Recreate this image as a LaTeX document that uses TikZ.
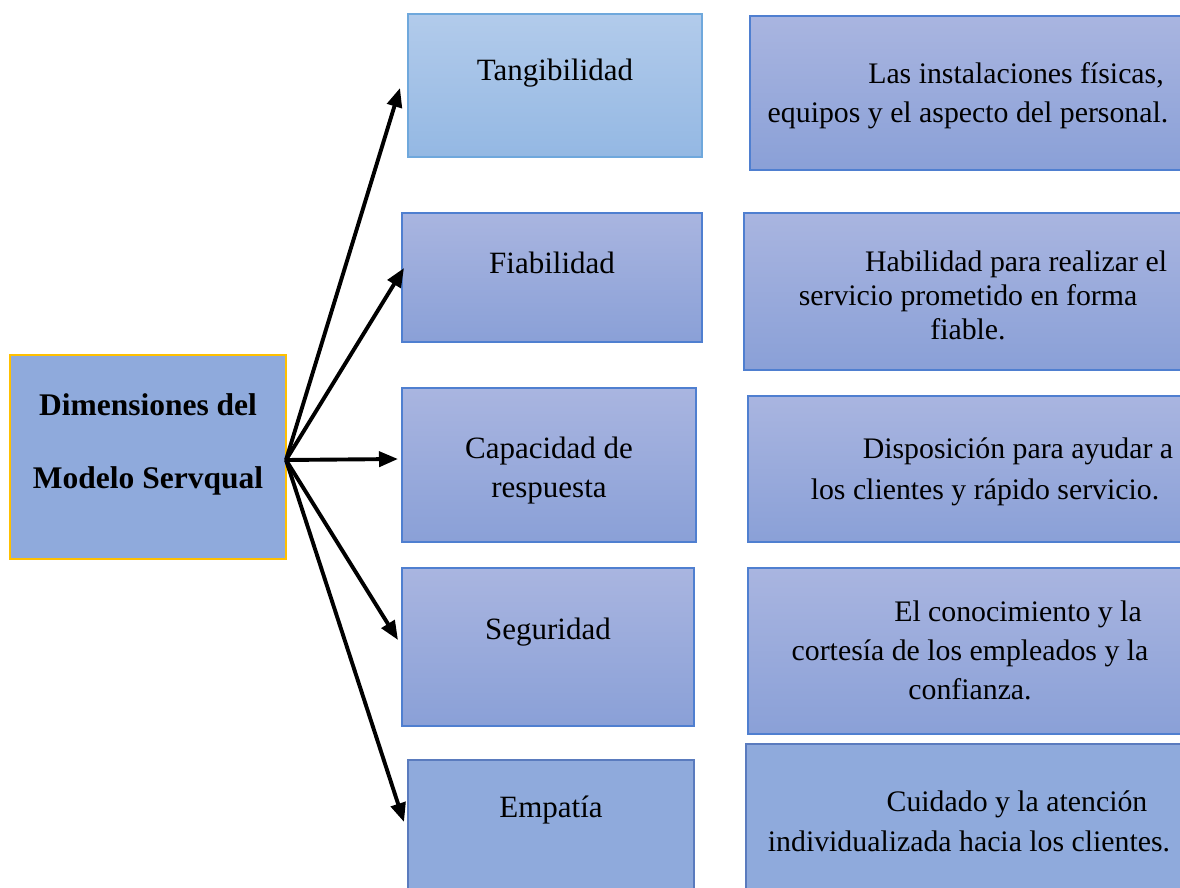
\documentclass[tikz,border=0pt]{standalone}
\usepackage{fontspec}
\setmainfont{Liberation Serif}
\usetikzlibrary{arrows.meta}
\definecolor{flatblue}{HTML}{8FAADC}
\definecolor{gold}{HTML}{FFC000}
\definecolor{tanTop}{HTML}{B2CBEB}
\definecolor{tanBot}{HTML}{94B8E3}
\definecolor{tanEdge}{HTML}{6FA8DC}
\definecolor{gTop}{HTML}{A9B5E0}
\definecolor{gBot}{HTML}{8AA0D7}
\definecolor{gEdge}{HTML}{4F7FD0}
\definecolor{fEdge}{HTML}{5A7BBE}
\tikzset{
  box/.style={rectangle, inner sep=0pt, outer sep=0pt, line width=1.2pt},
  gradbox/.style={box, draw=gEdge, top color=gTop, bottom color=gBot},
  tanbox/.style={box, draw=tanEdge, top color=tanTop, bottom color=tanBot},
  flatbox/.style={box, draw=fEdge, fill=flatblue},
  midtxt/.style={align=center, inner sep=0pt, font=\fontsize{31}{39}\selectfont},
  righttxt/.style={align=center, inner sep=0pt, font=\fontsize{29.8}{39}\selectfont},
  conn/.style={line width=3.9pt, -{Triangle[length=19pt,width=15pt]}},
}
\begin{document}
\begin{tikzpicture}[x=1pt,y=-1pt]
\useasboundingbox (0,0) rectangle (1180,888);
% left box
\node[box, draw=gold, fill=flatblue, line width=1.6pt, minimum width=276pt, minimum height=204pt, anchor=north west] (dim) at (10,355) {};
\node[align=center, inner sep=0pt, font=\fontsize{31.5}{73}\selectfont\bfseries] (dimt) at (148,444) {Dimensiones del\\Modelo Servqual};
% middle column
\node[tanbox, minimum width=294pt, minimum height=143pt, anchor=north west] (tan) at (408,14) {};
\node[gradbox, minimum width=300pt, minimum height=129pt, anchor=north west] (fia) at (402,213) {};
\node[gradbox, minimum width=294pt, minimum height=154pt, anchor=north west] (cap) at (402,388) {};
\node[gradbox, minimum width=292pt, minimum height=158pt, anchor=north west] (seg) at (402,568) {};
\node[flatbox, minimum width=286pt, minimum height=136pt, anchor=north west] (emp) at (408,760) {};
\node[midtxt] (tant) at (555,73) {Tangibilidad};
\node[midtxt] (fiat) at (552,263) {Fiabilidad};
\node[midtxt] (capt) at (549,471) {Capacidad de\\respuesta};
\node[midtxt] (segt) at (548,632) {Seguridad};
\node[midtxt] (empt) at (551,810) {Empatía};
% right column
\node[gradbox, minimum width=440pt, minimum height=154pt, anchor=north west] (r1) at (750,16) {};
\node[gradbox, minimum width=446pt, minimum height=157pt, anchor=north west] (r2) at (744,213) {};
\node[gradbox, minimum width=442pt, minimum height=146pt, anchor=north west] (r3) at (748,396) {};
\node[gradbox, minimum width=442pt, minimum height=166pt, anchor=north west] (r4) at (748,568) {};
\node[flatbox, minimum width=444pt, minimum height=154pt, anchor=north west] (r5) at (746,744) {};
\node[righttxt] (r1t) at (968,96) {\hspace*{96pt}Las instalaciones físicas,\\equipos y el aspecto del personal.};
\node[righttxt, font=\fontsize{29.8}{34}\selectfont] (r2t) at (968,295) {\hspace*{96pt}Habilidad para realizar el\\servicio prometido en forma\\fiable.};
\node[righttxt, font=\fontsize{29.8}{41}\selectfont] (r3t) at (985,472) {\hspace*{66pt}Disposición para ayudar a\\\hspace*{-4pt}los\ clientes\ y\ rápido\ servicio.\hspace*{-4pt}};
\node[righttxt] (r4t) at (970,650) {\hspace*{96pt}El conocimiento y la\\cortesía de los empleados y la\\confianza.};
\node[righttxt, font=\fontsize{29.8}{40}\selectfont] (r5t) at (969,821) {\hspace*{96pt}Cuidado y la atención\\individualizada hacia los clientes.};
% connectors
\coordinate (o) at (286,460);
\coordinate (e1) at (400,88);
\coordinate (e2) at (404,268);
\coordinate (e3) at (398,459);
\coordinate (e4) at (398,640);
\coordinate (e5) at (404,822);
\draw[conn] (o) -- (e1);
\draw[conn] (o) -- (e2);
\draw[conn] (o) -- (e3);
\draw[conn] (o) -- (e4);
\draw[conn] (o) -- (e5);
\end{tikzpicture}
\end{document}
